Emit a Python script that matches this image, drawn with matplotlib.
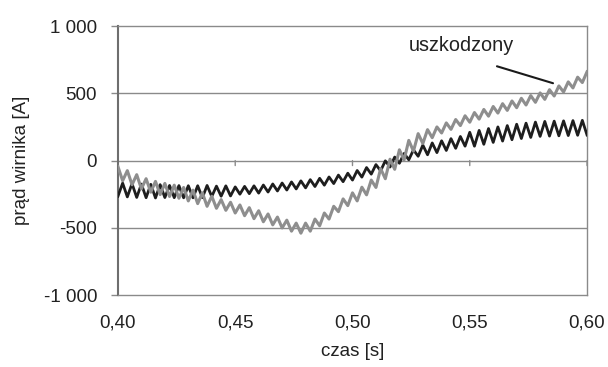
import numpy as np
import matplotlib
matplotlib.use("Agg")
import matplotlib.pyplot as plt

plt.rcParams['font.family'] = ['Liberation Sans', 'DejaVu Sans']

# time base: samples every 2 ms from 0.40 s to 0.60 s
t = np.linspace(0.40, 0.60, 101)

# damaged rotor current (gray)
damaged = [-45, -150, -75, -180, -105, -210, -135, -235, -155, -253,
           -170, -267, -183, -280, -200, -300, -220, -320, -240, -340,
           -265, -355, -290, -370, -310, -390, -330, -410, -350, -432,
           -373, -455, -397, -478, -420, -501, -443, -525, -465, -540,
           -465, -525, -435, -485, -390, -435, -340, -380, -285, -335,
           -240, -300, -198, -255, -145, -200, -60, -135, 10, -65,
           80, 5, 150, 70, 200, 127, 230, 170, 250, 205,
           280, 232, 305, 260, 333, 285, 357, 308, 380, 330,
           402, 353, 423, 373, 443, 393, 463, 413, 483, 433,
           503, 455, 527, 480, 555, 510, 585, 540, 620, 580, 660]

# healthy rotor current (black)
healthy = [-265, -168, -270, -172, -274, -175, -276, -177, -278, -179,
           -275, -185, -276, -186, -277, -187, -277, -187, -276, -185,
           -267, -190, -265, -188, -263, -196, -250, -192, -246, -188,
           -242, -182, -234, -174, -226, -167, -219, -159, -211, -151,
           -203, -142, -193, -132, -183, -122, -171, -108, -157, -94,
           -145, -74, -123, -52, -101, -30, -76, -2, -48, 26,
           -20, 53, 6, 79, 32, 115, 43, 131, 59, 147,
           75, 163, 91, 179, 107, 210, 107, 224, 121, 238,
           135, 250, 145, 260, 155, 270, 164, 278, 172, 286,
           180, 291, 182, 293, 184, 295, 186, 297, 188, 299, 190]

x_ticks = [0.40, 0.45, 0.50, 0.55, 0.60]
x_ticklabels = ["0,40", "0,45", "0,50", "0,55", "0,60"]
y_ticks = [-1000, -500, 0, 500, 1000]
y_ticklabels = ["-1 000", "-500", "0", "500", "1 000"]

fig = plt.figure(figsize=(6.08, 3.67), dpi=100)
ax = fig.add_axes([0.194, 0.196, 0.7715, 0.733])

grid_col = "#8a8a8a"
text_col = "#222222"

ax.plot(t, healthy, color="#1e1e1e", lw=2.0, zorder=3)
ax.plot(t, damaged, color="#8e8e8e", lw=2.2, zorder=4)

ax.set_xlim(0.40, 0.60)
ax.set_ylim(-1000, 1000)

ax.set_yticks(y_ticks)
ax.set_yticklabels(y_ticklabels)
ax.set_xticks(x_ticks)
ax.set_xticklabels(x_ticklabels)

ax.tick_params(axis='x', length=0, pad=14, labelsize=13.5, labelcolor=text_col)
ax.tick_params(axis='y', length=5, width=1, color=grid_col, pad=10,
               labelsize=13.5, labelcolor=text_col)

for v in [-500, 0, 500]:
    ax.axhline(v, color=grid_col, lw=1.0, zorder=1)

for s in ax.spines.values():
    s.set_color(grid_col)
    s.set_linewidth(1.0)
ax.spines['left'].set_color("#6e6e6e")
ax.spines['left'].set_linewidth(1.5)

# small tick marks on the horizontal axis crossing at zero (5 px downwards)
for xt in x_ticks:
    ax.annotate("", xy=(xt, 0), xycoords='data',
                xytext=(0, -5), textcoords='offset pixels',
                arrowprops=dict(arrowstyle='-', color=grid_col, lw=1.0,
                                shrinkA=0, shrinkB=0), zorder=1)

ax.set_xlabel("czas [s]", fontsize=13.5, color=text_col, labelpad=8)
ax.set_ylabel("prąd wirnika [A]", fontsize=13.5, color=text_col, labelpad=10)

ax.text(0.5465, 858, "uszkodzony", fontsize=14.3, color=text_col,
        ha='center', va='center')
ax.annotate("", xy=(0.5855, 575), xytext=(0.5616, 701),
            arrowprops=dict(arrowstyle='-', color='#1a1a1a', lw=1.5,
                            shrinkA=0, shrinkB=0))

fig.savefig("out.png", dpi=100)
